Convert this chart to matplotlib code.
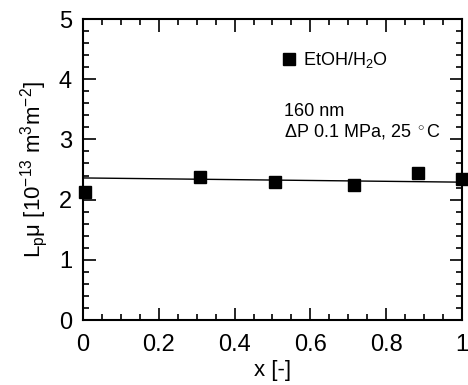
import matplotlib
matplotlib.use("Agg")
import matplotlib.pyplot as plt
from matplotlib.ticker import MultipleLocator

plt.rcParams['font.family'] = ['Liberation Sans', 'DejaVu Sans']
plt.rcParams['mathtext.fontset'] = 'custom'
plt.rcParams['mathtext.rm'] = 'Liberation Sans'
plt.rcParams['mathtext.it'] = 'Liberation Sans'

x_vals = [0.005, 0.31, 0.507, 0.715, 0.885, 1.0]
lp_mu = [2.13, 2.38, 2.30, 2.25, 2.44, 2.34]
fit_x = [0.0, 1.0]
fit_y = [2.36, 2.29]

fig = plt.figure(figsize=(4.68, 3.85), dpi=100)
ax = fig.add_axes([0.1774, 0.1688, 0.8096, 0.7818])

ax.plot(fit_x, fit_y, color='black', lw=1.0, zorder=2)
ax.plot(x_vals, lp_mu, 's', color='black', ms=8, clip_on=False, zorder=3,
        label='EtOH/H$_2$O')

ax.set_xlim(0, 1)
ax.set_ylim(0, 5)
ax.xaxis.set_major_locator(MultipleLocator(0.2))
ax.xaxis.set_minor_locator(MultipleLocator(0.05))
ax.yaxis.set_major_locator(MultipleLocator(1))
ax.yaxis.set_minor_locator(MultipleLocator(0.2))
ax.set_xticks([0, 0.2, 0.4, 0.6, 0.8, 1.0])
ax.set_xticklabels(['0', '0.2', '0.4', '0.6', '0.8', '1'])
ax.tick_params(which='both', direction='in', top=True, right=True, labelsize=17, width=1.2)
ax.tick_params(which='major', length=9)
ax.tick_params(axis='x', which='major', pad=10)
ax.tick_params(axis='y', which='major', pad=8)
ax.tick_params(which='minor', length=4)
for s in ax.spines.values():
    s.set_linewidth(1.5)

ax.set_xlabel('x [-]', fontsize=16, labelpad=3)
ax.set_ylabel(r'L$_\mathrm{p}$$\mu$ [10$^{-13}$ m$^3$m$^{-2}$]', fontsize=16, labelpad=6)

ax.legend(loc='upper left', bbox_to_anchor=(0.5, 0.92), frameon=False, fontsize=13,
          handletextpad=0.3, borderaxespad=0, handlelength=1.0, markerscale=1)
ax.text(0.53, 0.72, '160 nm\n$\\Delta$P 0.1 MPa, 25 $^\\circ$C', transform=ax.transAxes,
        fontsize=13, va='top', ha='left', linespacing=1.1)

fig.savefig('out.png', dpi=100)
